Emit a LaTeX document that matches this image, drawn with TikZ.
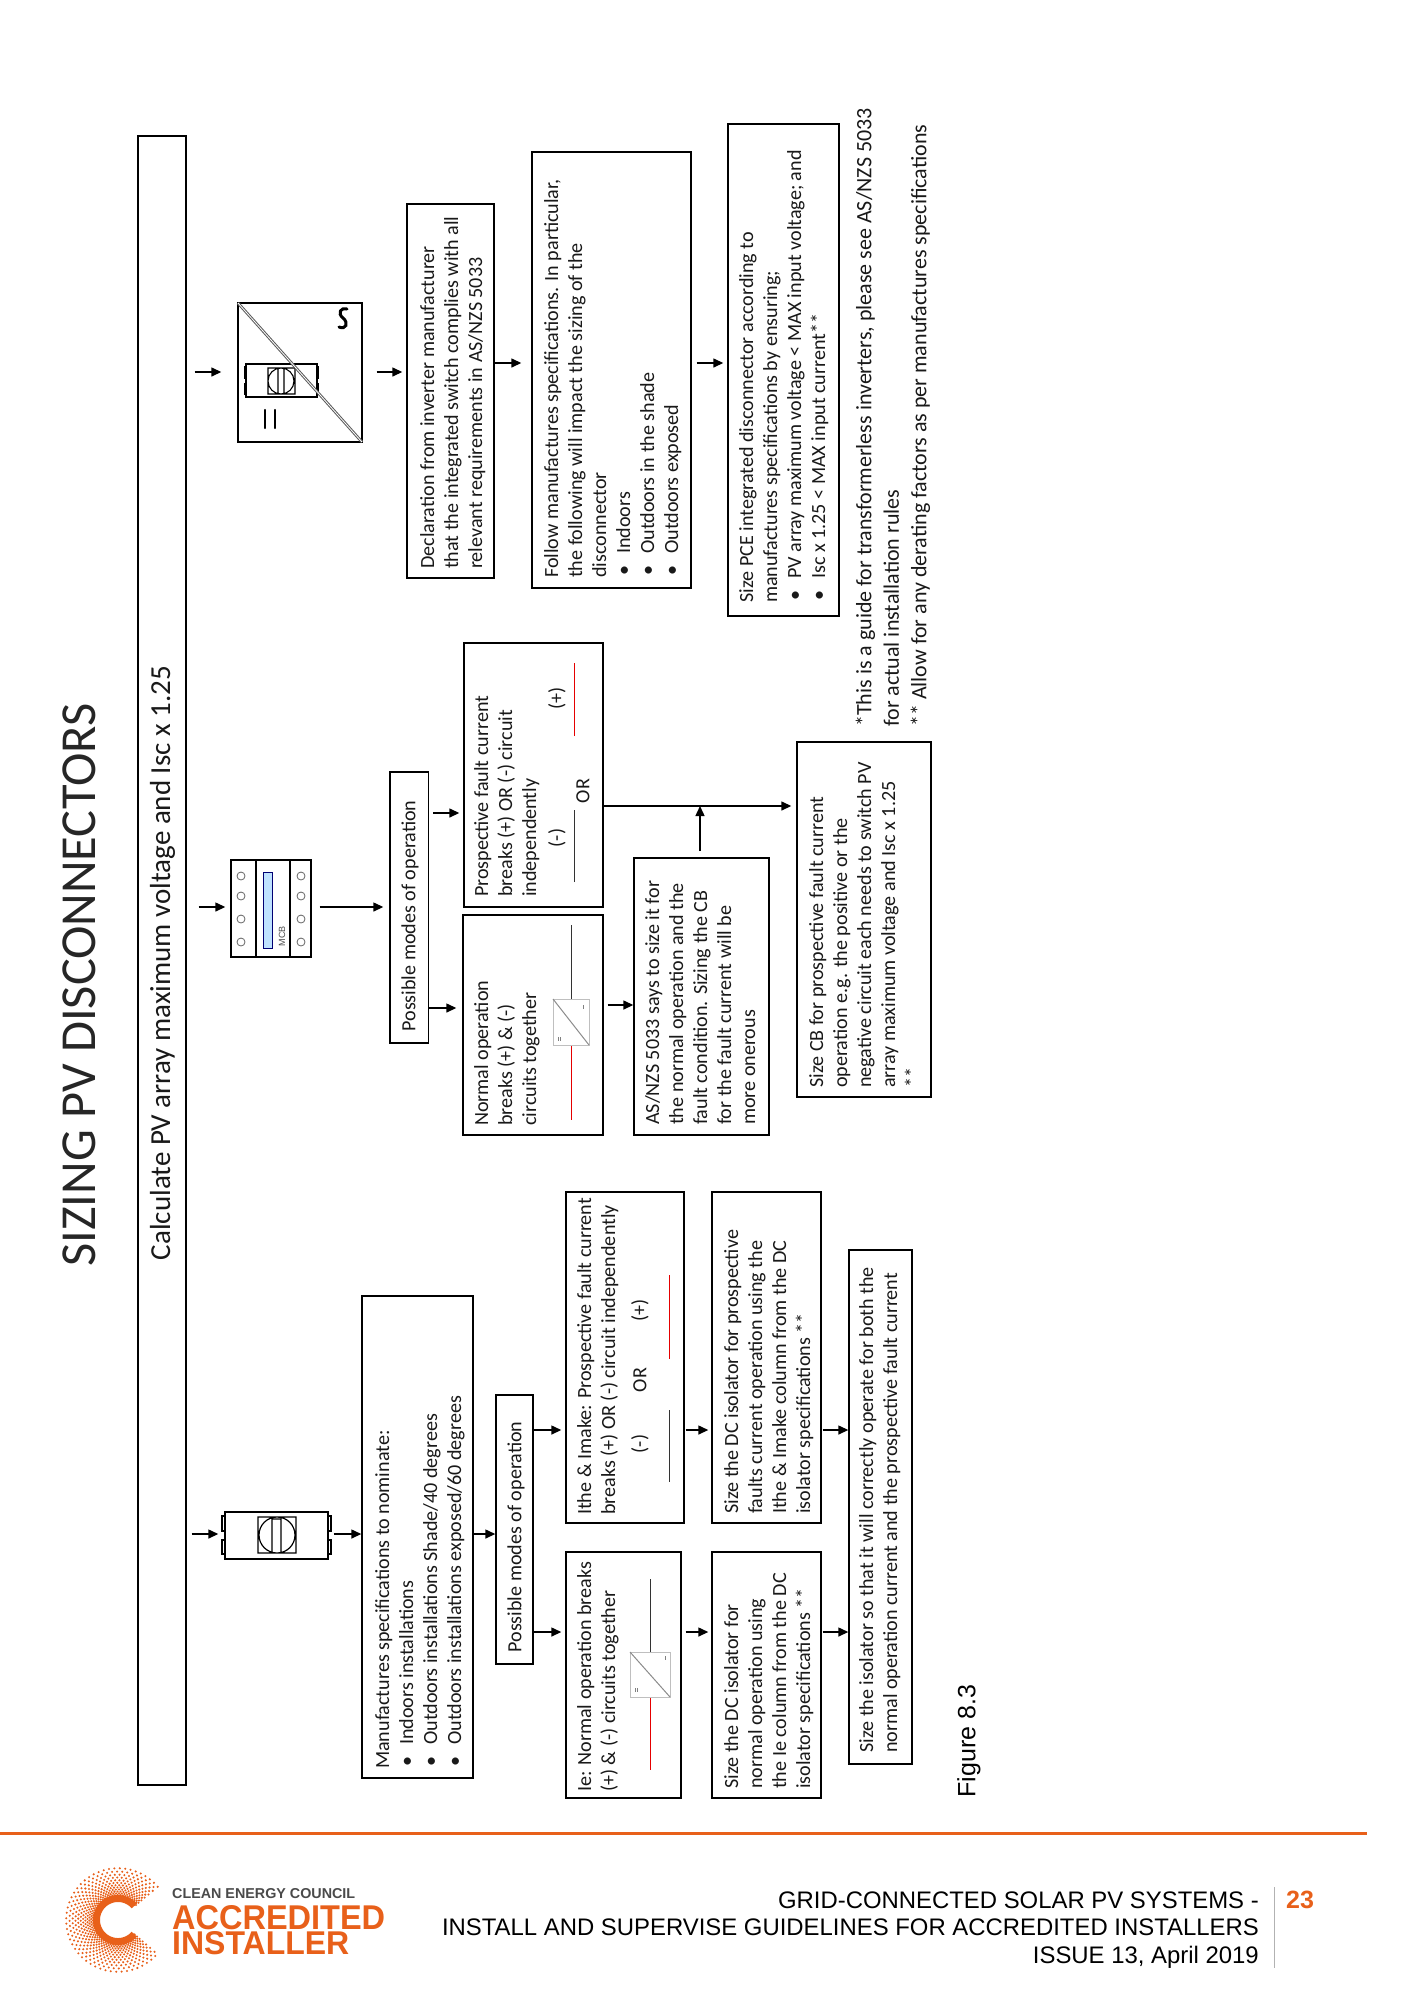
\documentclass[tikz,border=0pt]{standalone}
\usepackage{fontspec}
\setmainfont{Carlito}
\newfontfamily\arial{Liberation Sans}
\usetikzlibrary{arrows.meta,calc}
\definecolor{cecorange}{HTML}{E8601A}
\definecolor{cecgrey}{HTML}{4A4A4A}
\newcommand\rbox[5]{%
  \pgfmathsetmacro\bw{#4-#2}\pgfmathsetmacro\bh{#5-#3}%
  \pgfmathsetmacro\cx{(#2+#4)/2}\pgfmathsetmacro\cy{(#3+#5)/2}%
  \node[bx,minimum width=\bw pt,minimum height=\bh pt] (#1) at (\cx,\cy) {};}
\newcommand\bul[1]{\makebox[24pt][l]{\hspace{2pt}•}#1}
\tikzset{
  x=1pt,y=-1pt,
  bx/.style={draw=black,line width=1.4pt,inner sep=0pt,fill=none},
  txt/.style={rotate=90,anchor=north west,inner sep=0pt,align=left,text=black!90,
     font=\fontsize{20.1}{24}\selectfont},
  ctxt/.style={rotate=90,anchor=center,inner sep=0pt,text=black!90,
     font=\fontsize{20.1}{24}\selectfont},
  arr/.style={-{Triangle[length=10pt,width=9pt]},line width=1.4pt},
  wire/.style={line width=1pt,draw=black!80},
  redwire/.style={line width=1pt,draw=red!90!black},
  conv/.style={draw=black!25,line width=1pt,fill=white},
  convd/.style={draw=black!45,line width=1pt},
  foot/.style={inner sep=0pt,anchor=base east,font=\arial\fontsize{23.9}{26}\selectfont,text=black},
}
\begin{document}
\begin{tikzpicture}
\useasboundingbox (0,0) rectangle (1413,2000);
\fill[white] (0,0) rectangle (1413,2000);

% title and bar
\node[rotate=90,inner sep=0pt,font=\fontsize{50.4}{55}\selectfont,text=black!85] (title) at (79,985) {SIZING PV DISCONNECTORS};
\rbox{bar}{138}{136}{186}{1785}
\node[ctxt,font=\fontsize{29}{33}\selectfont] (bart) at (162.5,963) {Calculate PV array maximum voltage and Isc x 1.25};

% helper coordinates for arrow rows
\coordinate (ra) at (0,1430);
\coordinate (rb) at (0,1632);
\coordinate (rc) at (0,1534);

%% LEFT COLUMN
\rbox{sw}{225}{1512}{328}{1559}
\draw[line width=1.4pt] (222,1516) rectangle (225,1531) (222,1540) rectangle (225,1554)
  (328,1516) rectangle (331,1531) (328,1540) rectangle (331,1554);
\draw[line width=1.2pt] (258,1517) rectangle (296,1553) (277,1535) circle (18) (272,1519) rectangle (281,1553);
\rbox{man}{362}{1296}{473}{1778}
\node[txt] (tman) at (372,1769) {\strut Manufactures specifications to nominate:\\
  \bul{Indoors installations}\\ \bul{Outdoors installations Shade/40 degrees}\\ \bul{Outdoors installations exposed/60 degrees}};
\rbox{modl}{496}{1395}{533}{1664}
\node[ctxt] (tmodl) at (516,1537) {Possible modes of operation};
\rbox{ithe}{566}{1192}{684}{1523}
\node[txt] (tithe) at (574,1515) {\strut Ithe \& Imake: Prospective fault current\\ breaks (+) OR (-) circuit independently};
\rbox{ie}{566}{1552}{681}{1798}
\node[txt] (tie) at (574,1792) {\strut Ie: Normal operation breaks\\ (+) \& (-) circuits together};
\rbox{su}{712}{1192}{821}{1523}
\node[txt] (tsu) at (721,1514) {\strut Size the DC isolator for prospective\\ faults current  operation using the\\ Ithe \& Imake column from the DC\\ isolator specifications **};
\rbox{sl}{712}{1552}{821}{1798}
\node[txt] (tsl) at (721,1789) {\strut Size the DC isolator for\\ normal operation using\\ the Ie column from the DC\\ isolator specifications **};
\rbox{iso}{849}{1250}{912}{1764}
\node[txt] (tiso) at (856,1753) {\strut Size the isolator so that it will correctly operate for both the\\ normal operation current and the prospective fault current};

\draw[arr] (bar.east |- rc) ++(5,0) -- ($(sw.west |- rc)+(-6,0)$);
\draw[arr] ($(sw.east |- rc)+(5,0)$) -- (man.west |- rc);
\draw[arr] (man.east |- rc) -- (modl.west |- rc);
\draw[arr] (modl.east |- ra) -- ($(ithe.west |- ra)+(-4,0)$);
\draw[arr] (modl.east |- rb) -- ($(ie.west |- rb)+(-4,0)$);
\draw[arr] ($(ithe.east |- ra)+(1,0)$) -- ($(su.west |- ra)+(-3,0)$);
\draw[arr] ($(ie.east |- rb)+(4,0)$) -- ($(sl.west |- rb)+(-3,0)$);
\draw[arr] ($(su.east |- ra)+(1,0)$) -- (iso.west |- ra);
\draw[arr] ($(sl.east |- rb)+(1,0)$) -- (iso.west |- rb);

% wires in Ithe box
\node[ctxt] (mi1) at (640,1444) {(-)};
\node[ctxt] (or1) at (640,1380) {OR};
\node[ctxt] (pl1) at (640,1310) {(+)};
\draw[wire] (669,1410) -- (669,1482);
\draw[redwire] (669,1275) -- (669,1359);
% wires in Ie box
\draw[wire] (650,1579) -- (650,1652);
\draw[redwire] (650,1697) -- (650,1770);
\draw[conv] (630,1652) rectangle (670,1697);
\draw[convd] (630,1652) -- (670,1697);
\draw[black!50,line width=0.8pt] (665,1656) -- (665,1660) (635,1688) -- (635,1692) (637,1688) -- (637,1692);

%% MIDDLE COLUMN
\rbox{mcb}{231}{860}{311}{957}
\draw[line width=1.2pt] (256,860) -- (256,957) (290,860) -- (290,957);
\draw[draw=blue!45!black,fill=blue!45!cyan!25!white,line width=1pt] (263,872) rectangle (272,948);
\foreach \cyy in {876,896,919,942}{
  \draw[draw=black!60,line width=0.8pt] (241,\cyy) circle (4) (301,\cyy) circle (4);}
\node[rotate=90,inner sep=0pt,text=black!70,font=\arial\fontsize{9}{10}\selectfont] (mcbt) at (282,936) {MCB};
\rbox{modm}{390}{772}{428.5}{1043}
\node[ctxt] (tmodm) at (410,916) {Possible modes of operation};
\rbox{pros}{464}{643}{603}{907}
\node[txt] (tpros) at (471,897) {\strut Prospective fault current\\ breaks (+) OR (-) circuit\\ independently};
\rbox{norm}{463}{915}{603}{1135}
\node[txt] (tnorm) at (471,1126) {\strut Normal operation\\ breaks (+) \& (-)\\ circuits together};
\rbox{asn}{634}{858}{769}{1135}
\node[txt] (tasn) at (642,1125) {\strut AS/NZS 5033 says to size it for\\ the normal operation and the\\ fault condition. Sizing the CB\\ for the fault current will be\\ more onerous};
\rbox{cb}{797}{742}{931}{1097}
\node[txt] (tcb) at (806,1088) {\strut Size CB for prospective fault current\\ operation e.g. the positive or the\\ negative circuit each needs to switch PV\\ array maximum voltage and Isc x 1.25\\ **};

\coordinate (rd) at (0,907);
\coordinate (re) at (0,813);
\coordinate (rf) at (0,1008);
\coordinate (rg) at (0,1005);
\coordinate (rh) at (0,806);
\draw[arr] (bar.east |- rd) ++(12,0) -- ($(mcb.west |- rd)+(-5,0)$);
\draw[arr] ($(mcb.east |- rd)+(8,0)$) -- ($(modm.west |- rd)+(-6,0)$);
\draw[arr] ($(modm.east |- re)+(4,0)$) -- ($(pros.west |- re)+(-4,0)$);
\draw[arr] (modm.east |- rf) -- ($(norm.west |- rf)+(-6,0)$);
\draw[arr] ($(norm.east |- rg)+(4,0)$) -- (asn.west |- rg);
\draw[arr] (pros.east |- rh) -- ($(cb.west |- rh)+(-5,0)$);
\coordinate (up) at (700,851);
\draw[arr] (up) -- (up |- rh);

\node[ctxt] (mi2) at (557,838) {(-)};
\node[ctxt] (or2) at (583,791) {OR};
\node[ctxt] (pl2) at (557,698) {(+)};
\draw[wire] (574,882) -- (574,810);
\draw[redwire] (574,736) -- (574,663);
\draw[wire] (571,925) -- (571,999);
\draw[redwire] (571,1045) -- (571,1120);
\draw[conv] (553,999) rectangle (589,1045);
\draw[convd] (553,999) -- (589,1045);
\draw[black!50,line width=0.8pt] (583,1005) -- (583,1009) (558,1037) -- (558,1041) (560,1037) -- (560,1041);

%% RIGHT COLUMN
\rbox{inv}{238}{303}{362}{442}
\draw[line width=1.4pt] (246,364) rectangle (317,397);
\draw[line width=2pt] (245,366) -- (245,379) (245,383) -- (245,395) (318,366) -- (318,379) (318,383) -- (318,395);
\draw[line width=1.1pt] (268,368) rectangle (295,394) (281,381) circle (13) (278,368) -- (278,394) (284,368) -- (284,394);
\draw[black!65,line width=2.8pt] (238,303) -- (362,442);
\draw[white,line width=0.8pt] (238,303) -- (362,442);
\draw[line width=2.4pt,line cap=round] (265,410) -- (265,428) (275,410) -- (275,428);
\draw[line width=3pt,line cap=round] (347,309) .. controls (341,307) and (337,313) .. (343,318) .. controls (349,323) and (346,330) .. (339,327);
\rbox{decl}{407}{204}{494}{578}
\node[txt] (tdecl) at (417,569) {\strut Declaration from inverter manufacturer\\ that the integrated switch complies with all\\ relevant requirements in AS/NZS 5033};
\rbox{foll}{532}{152}{691}{588}
\node[txt] (tfoll) at (541,578) {\strut Follow manufactures specifications. In particular,\\ the following will impact the sizing of the\\ disconnector\\ \bul{Indoors}\\ \bul{Outdoors in the shade}\\ \bul{Outdoors exposed}};
\rbox{pce}{728}{124}{839}{616}
\node[txt] (tpce) at (736,603) {\strut Size PCE integrated disconnector according to\\ manufactures specifications by ensuring;\\ \bul{PV array maximum voltage < MAX input voltage; and}\\ \bul{Isc x 1.25 < MAX input current**}};

\coordinate (ri) at (0,372);
\coordinate (rj) at (0,363);
\draw[arr] (bar.east |- ri) ++(8,0) -- ($(inv.west |- ri)+(-16,0)$);
\draw[arr] ($(inv.east |- ri)+(14,0)$) -- ($(decl.west |- ri)+(-4,0)$);
\draw[arr] (decl.east |- rj) -- ($(foll.west |- rj)+(-10,0)$);
\draw[arr] ($(foll.east |- rj)+(5,0)$) -- ($(pce.west |- rj)+(-4,0)$);

% notes
\node[txt,font=\fontsize{22}{27.5}\selectfont] (notes) at (852,727) {\strut *This is a guide for transformerless inverters, please see AS/NZS 5033\\ for actual installation rules\\ ** Allow for any derating factors as per manufactures specifications};
\node[rotate=90,inner sep=0pt,font=\arial\fontsize{25}{28}\selectfont] (fig) at (969,1741) {Figure 8.3};

%% FOOTER
\fill[cecorange] (0,1832) rectangle (1367,1835);
\node[foot] (f1) at (1259,1908) {GRID-CONNECTED SOLAR PV SYSTEMS -};
\node[foot] (f2) at (1259,1935) {INSTALL AND SUPERVISE GUIDELINES FOR ACCREDITED INSTALLERS};
\node[foot] (f3) at (1259,1963) {ISSUE 13, April 2019};
\draw[black!30,line width=0.8pt] (1274,1887) -- (1274,1968);
\node[foot,anchor=center,text=cecorange,font=\arial\bfseries\fontsize{25}{28}\selectfont] (pg) at (1300,1900) {23};

% logo
\foreach \i in {0,...,13}{
  \pgfmathsetmacro\rr{22*1.068^\i}
  \pgfmathsetmacro\off{mod(\i,2)*3}
  \foreach \j in {0,...,46}{
    \pgfmathsetmacro\aa{41+\off+\j*6}
    \fill[cecorange] ($(118,1920)+(\aa:\rr)$) circle (1.15);
  }
}
\draw[cecorange,line width=7pt,domain=41:319,samples=70] plot ({118+21.5*cos(\x)},{1920+21.5*sin(\x)});
\node[inner sep=0pt,anchor=west] (l1) at (172,1893.5) {\resizebox{183pt}{10pt}{\arial\bfseries\textcolor{cecgrey}{CLEAN ENERGY COUNCIL}}};
\node[inner sep=0pt,anchor=west] (l2) at (172,1917.5) {\resizebox{213pt}{24pt}{\arial\bfseries\textcolor{cecorange}{ACCREDITED}}};
\node[inner sep=0pt,anchor=west] (l3) at (172,1943.5) {\resizebox{177pt}{23pt}{\arial\bfseries\textcolor{cecorange}{INSTALLER}}};
\end{tikzpicture}
\end{document}
